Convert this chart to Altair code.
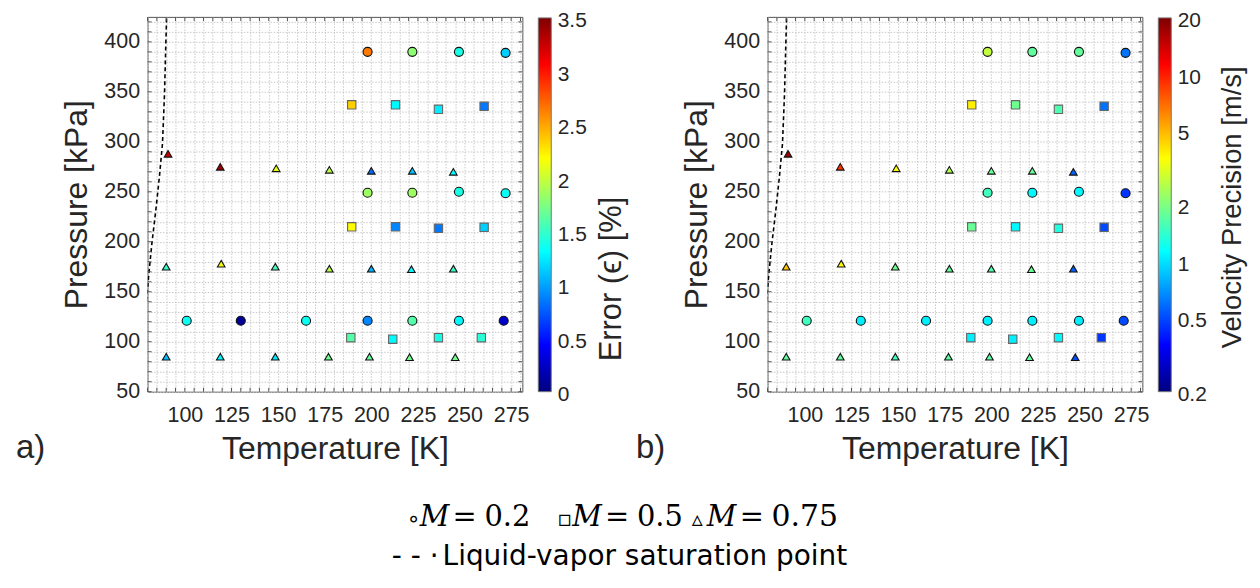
import altair as alt
import pandas as pd

# ---------------- data ----------------
# M = 0.2 (circles)
circ_T = [198, 222, 247, 272,  198, 222, 247, 272,  101, 130, 165, 198, 222, 247, 271]
circ_P = [390, 390, 390, 389,  249, 249, 250, 248.5, 121, 121, 121, 121, 121, 121, 121]
circ_err = [2.65, 1.8, 1.4, 1.15,  1.85, 1.85, 1.4, 1.35,  1.35, 0.08, 1.35, 0.9, 1.6, 1.3, 0.25]
circ_vel = [2.7, 1.75, 1.75, 0.6,  1.5, 1.1, 1.1, 0.45,  1.5, 1.05, 1.05, 1.05, 1.05, 1.05, 0.5]

# M = 0.5 (squares)
sq_T = [189.5, 213, 236, 260.5,  189.5, 213, 236, 260.5,  189, 211.5, 236, 259]
sq_P = [337, 337, 332.5, 335.5,  215, 215, 213.5, 214.5,  104, 102.5, 104, 104]
sq_err = [2.35, 1.3, 1.25, 0.85,  2.2, 0.9, 0.85, 1.15,  1.6, 1.3, 1.4, 1.45]
sq_vel = [3.8, 1.85, 1.6, 0.6,  1.8, 1.1, 1.3, 0.5,  1.05, 1.05, 1.1, 0.45]

# M = 0.75 (triangles)
tri_T = [91, 119, 149, 177.5, 200, 222, 244,
         90, 119.5, 148.5, 177.5, 200, 221.5, 244,
         90, 119, 148.5, 177, 199, 220.5, 245]
tri_P = [288, 275, 273.5, 272, 271, 271, 270,
         175, 178, 175, 173, 173, 172.5, 173,
         85, 85, 85, 85, 85, 84.5, 84.5]
tri_err = [3.25, 3.4, 2.1, 1.95, 0.8, 1.1, 1.3,
           1.5, 2.15, 1.55, 1.95, 1.05, 1.3, 1.5,
           1.1, 1.3, 1.25, 1.7, 1.65, 1.7, 1.7]
tri_vel = [18, 9, 3.5, 2.5, 1.8, 1.8, 0.55,
           4.6, 3.6, 1.9, 1.75, 1.6, 1.8, 0.55,
           1.75, 1.75, 1.5, 1.7, 1.7, 1.75, 0.5]

# liquid-vapor saturation line
sat_T = [79.5, 80.5, 82.3, 84.4, 86.3, 88.0, 89.1, 89.8, 90.2]
sat_P = [141, 164, 198, 231, 264, 298, 348, 398, 424]

groups = ["M=0.2", "M=0.5", "M=0.75"]
x_tick_labels = [100, 125, 150, 175, 200, 225, 250, 275]
y_tick_labels = [50, 100, 150, 200, 250, 300, 350, 400]
err_ticks = [0, 0.5, 1, 1.5, 2, 2.5, 3, 3.5]
vel_ticks = [0.2, 0.5, 1, 2, 5, 10, 20]

# jet colormap stops
jet = ["#00007F", "#0000FF", "#00FFFF", "#FFFF00", "#FF0000", "#7F0000"]
jet_frac = [0, 0.125, 0.375, 0.625, 0.875, 1]

rows = []
for T, P, e, v in zip(circ_T, circ_P, circ_err, circ_vel):
    rows.append(dict(T=T, P=P, err=e, vel=v, g=groups[0]))
for T, P, e, v in zip(sq_T, sq_P, sq_err, sq_vel):
    rows.append(dict(T=T, P=P, err=e, vel=v, g=groups[1]))
for T, P, e, v in zip(tri_T, tri_P, tri_err, tri_vel):
    rows.append(dict(T=T, P=P, err=e, vel=v, g=groups[2]))
df = pd.DataFrame(rows)
sat = pd.DataFrame({"T": sat_T, "P": sat_P})

# ---------------- style ----------------
FONT = "Liberation Sans"
TXT = "#262626"
TICK = "#555555"
W, H = 376, 376
x_grid = list(range(80, 281, 5))
y_grid = list(range(50, 421, 10))

err_dom = [3.5 * f for f in jet_frac]
lo, hi = 0.2, 20.0
vel_dom = [lo * (hi / lo) ** f for f in jet_frac]

x_lab = "indexof([%s], datum.value) >= 0 ? datum.label : ''" % ",".join(str(v) for v in x_tick_labels)
y_lab = "indexof([%s], datum.value) >= 0 ? datum.label : ''" % ",".join(str(v) for v in y_tick_labels)

x_axis = alt.Axis(values=x_grid, title="Temperature [K]", labelExpr=x_lab,
                  labelOverlap=False, labelFlush=False, tickSize=0, domain=False,
                  labelFontSize=21.5, titleFontSize=32, labelPadding=13, titlePadding=8,
                  grid=True, gridColor="#c8c8c8", gridDash=[1.5, 1.5], gridWidth=1)
y_axis = alt.Axis(values=y_grid, title="Pressure [kPa]", labelExpr=y_lab,
                  labelOverlap=False, labelFlush=False, tickSize=0, domain=False,
                  labelFontSize=21.5, titleFontSize=32, labelPadding=8, titlePadding=10,
                  grid=True, gridColor="#c8c8c8", gridDash=[1.5, 1.5], gridWidth=1)
x_scale = alt.Scale(domain=[80, 281], nice=False, zero=False)
y_scale = alt.Scale(domain=[50, 425], nice=False, zero=False)
X = alt.X("T:Q", scale=x_scale, axis=x_axis)
Y = alt.Y("P:Q", scale=y_scale, axis=y_axis)

shape_enc = alt.Shape("g:N", scale=alt.Scale(domain=groups, range=["circle", "square", "triangle-up"]), legend=None)
stroke_enc = alt.Stroke("g:N", scale=alt.Scale(domain=groups, range=["#111111", "#666666", "#111111"]), legend=None)
size_enc = alt.Size("g:N", scale=alt.Scale(domain=groups, range=[82, 58, 250]), legend=None)

jet_gradient = alt.LinearGradient(
    gradient="linear", x1=0, x2=0, y1=1, y2=0,
    stops=[alt.GradientStop(offset=f, color=c) for f, c in zip(jet_frac, jet)])

xt_df = pd.DataFrame({"T": x_grid})
yt_df = pd.DataFrame({"P": y_grid})


def text_layer(txt, x, y, size, font=FONT, style="normal", angle=0, align="left", baseline="alphabetic"):
    return alt.Chart(pd.DataFrame({"t": [txt]})).mark_text(
        font=font, fontSize=size, fontStyle=style, angle=angle, align=align,
        baseline=baseline, color="#000000" if font != FONT else TXT
    ).encode(text="t:N", x=alt.value(x), y=alt.value(y))


def tick_marks():
    out = []
    for yv in (2, H - 2):
        out.append(alt.Chart(xt_df).mark_tick(orient="vertical", size=4, thickness=1, color=TICK, opacity=1)
                   .encode(x=X, y=alt.value(yv)))
    for xv in (2, W - 2):
        out.append(alt.Chart(yt_df).mark_tick(orient="horizontal", size=4, thickness=1, color=TICK, opacity=1)
                   .encode(y=Y, x=alt.value(xv)))
    return out


def panel(field, dom, scale_type, ticks, cbar_title, title_size, tag, title_xy, extra):
    sc = alt.Scale(type=scale_type, domain=dom, range=jet, interpolate="rgb")
    line = alt.Chart(sat).mark_line(color="#000000", strokeDash=[4, 3], strokeWidth=1.6, clip=True).encode(
        x=X, y=Y)
    pts = alt.Chart(df).mark_point(filled=True, opacity=1, strokeWidth=1.1).encode(
        x=X, y=Y,
        fill=alt.Fill(field + ":Q", scale=sc, legend=None),
        shape=shape_enc, stroke=stroke_enc, size=size_enc,
    )
    # colour bar
    bar = alt.Chart(pd.DataFrame({"b": [0]})).mark_rect(
        fill=jet_gradient, stroke="#777777", strokeWidth=1
    ).encode(x=alt.value(W + 16), x2=alt.value(W + 29), y=alt.value(1), y2=alt.value(H))
    layers = [line] + tick_marks() + [pts, bar,
              text_layer(tag, -132, 443, 33),
              text_layer(cbar_title, title_xy[0], title_xy[1], title_size, angle=270, align="center",
                         baseline="middle")]
    layers += extra
    main = alt.layer(*layers)
    cb_scale = alt.Scale(type=scale_type, domain=[dom[0], dom[-1]], nice=False, zero=False, range=[H, 1])
    cb_axis_layer = alt.Chart(pd.DataFrame({"cb": ticks})).mark_point(opacity=0).encode(
        x=alt.value(W + 29),
        y=alt.Y("cb:Q", scale=cb_scale,
                axis=alt.Axis(orient="right", offset=29, values=ticks, format="~g", title=None,
                              tickSize=0, domain=False, grid=False, labelFlush=False,
                              labelOverlap=False, labelPadding=6, labelOffset=3,
                              labelFontSize=21, labelFont=FONT, labelColor=TXT)),
    )
    return alt.layer(main, cb_axis_layer).resolve_scale(y="independent").properties(width=W, height=H)


SERIF = "DejaVu Serif"
SANS2 = "DejaVu Sans"
LY = 511
LF = 29
legend_texts = [
    text_layer("∘", 260, LY, 22, font=SANS2),
    text_layer("M", 273, LY, LF, font=SERIF, style="italic"),
    text_layer("=", 306, LY, LF, font=SERIF),
    text_layer("0.2", 338, LY, LF, font=SERIF),
    text_layer("▫", 411, LY, 22, font=SANS2),
    text_layer("M", 426, LY, LF, font=SERIF, style="italic"),
    text_layer("=", 459, LY, LF, font=SERIF),
    text_layer("0.5", 491, LY, LF, font=SERIF),
    text_layer("▵", 546, LY, 22, font=SANS2),
    text_layer("M", 561, LY, LF, font=SERIF, style="italic"),
    text_layer("=", 594, LY, LF, font=SERIF),
    text_layer("0.75", 626, LY, LF + 1, font=SERIF),
    text_layer("- - ·", 245, 550, 28, font=SANS2),
    text_layer("Liquid-vapor saturation point", 296, 550, 28, font=SANS2),
]

pa = panel("err", err_dom, "linear", err_ticks, "Error (ϵ) [%]", 31, "a)", (466, 263), legend_texts)
pb = panel("vel", vel_dom, "log", vel_ticks, "Velocity Precision [m/s]", 27.5, "b)", (467, 191), [])

chart = alt.hconcat(pa, pb, spacing=246, bounds="flush").resolve_scale(
    fill="independent"
).properties(
    padding={"left": 7, "top": 0, "right": 5, "bottom": 5}
).configure_view(
    stroke="#555555", strokeWidth=1
).configure_axis(
    labelFont=FONT, titleFont=FONT, labelColor=TXT, titleColor=TXT, titleFontWeight="normal"
)

chart.save("out.html", embed_options={"renderer": "svg", "actions": False})
